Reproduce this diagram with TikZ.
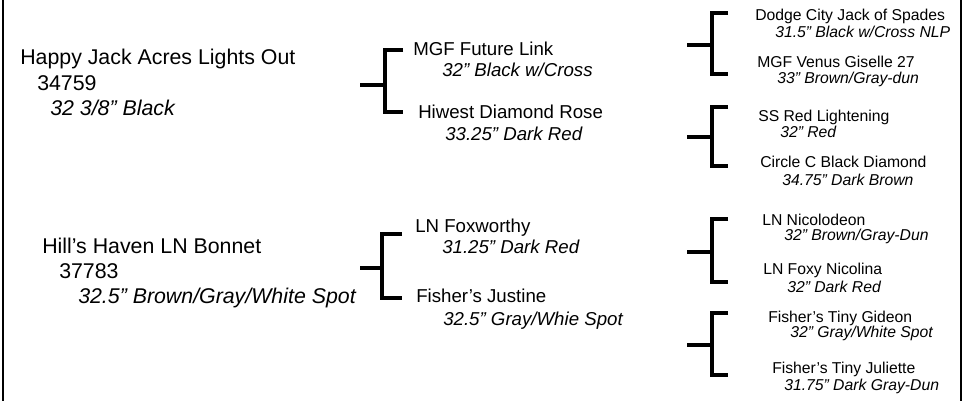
\documentclass[tikz,border=0pt]{standalone}
\usepackage{fontspec}
\setmainfont{Liberation Sans}
\usetikzlibrary{positioning}

% stub x, spine x, arm x, top y, bottom y, stub y
\newcommand{\pedbracket}[6]{%
  \draw[bracket] (#1,#6) -- (#2,#6) (#3,#4) -- (#2,#4) -- (#2,#5) -- (#3,#5);}

\begin{document}
\begin{tikzpicture}[
  x=0.75pt, y=-0.75pt,
  txt/.style={anchor=base west, inner sep=0pt},
  gen1/.style={txt, font=\fontsize{16}{19}\selectfont},
  gen2/.style={txt, font=\fontsize{14}{17}\selectfont},
  gen3/.style={txt, font=\fontsize{11.8}{14}\selectfont},
  desc/.style={execute at begin node=\itshape},
  bracket/.style={line width=3pt, line join=miter},
  frame/.style={line width=2pt},
]
\useasboundingbox (0,0) rectangle (965,401);

% frame
\draw[frame] (3,0) -- (3,401);
\draw[line width=1.2pt] (961,0) -- (961,401);

% first generation
\node[gen1] (hja) at (20,64) {Happy Jack Acres Lights Out};
\node[gen1] (hjareg) at (37,90) {34759};
\node[gen1, desc] (hjadesc) at (50,115) {32 3/8” Black};
\node[gen1] (hhb) at (42,253) {Hill’s Haven LN Bonnet};
\node[gen1] (hhbreg) at (59,278) {37783};
\node[gen1, desc] (hhbdesc) at (78,303) {32.5” Brown/Gray/White Spot};

% second generation
\node[gen2] (mgf) at (413,55) {MGF Future Link};
\node[gen2, desc] (mgfdesc) at (442,76) {32” Black w/Cross};
\node[gen2] (hdr) at (418,118) {Hiwest Diamond Rose};
\node[gen2, desc] (hdrdesc) at (445,140) {33.25” Dark Red};
\node[gen2] (lnf) at (415,232) {LN Foxworthy};
\node[gen2, desc] (lnfdesc) at (442,253) {31.25” Dark Red};
\node[gen2] (fj) at (416,302) {Fisher’s Justine};
\node[gen2, desc] (fjdesc) at (443,325) {32.5” Gray/Whie Spot};

% third generation
\node[gen3] (dcj) at (755,20) {Dodge City Jack of Spades};
\node[gen3, desc] (dcjdesc) at (775,37) {31.5” Black w/Cross NLP};
\node[gen3] (mvg) at (757,67) {MGF Venus Giselle 27};
\node[gen3, desc] (mvgdesc) at (777,83) {33” Brown/Gray-dun};
\node[gen3] (ssr) at (758,121) {SS Red Lightening};
\node[gen3, desc] (ssrdesc) at (780,137) {32” Red};
\node[gen3] (ccb) at (760,167) {Circle C Black Diamond};
\node[gen3, desc] (ccbdesc) at (782,185) {34.75” Dark Brown};
\node[gen3] (lnn) at (762,225) {LN Nicolodeon};
\node[gen3, desc] (lnndesc) at (784,240) {32” Brown/Gray-Dun};
\node[gen3] (lfn) at (763,274) {LN Foxy Nicolina};
\node[gen3, desc] (lfndesc) at (787,292) {32” Dark Red};
\node[gen3] (ftg) at (768,322) {Fisher's Tiny Gideon};
\node[gen3, desc] (ftgdesc) at (790,337) {32” Gray/White Spot};
\node[gen3] (ftj) at (772,373) {Fisher's Tiny Juliette};
\node[gen3, desc] (ftjdesc) at (784,390) {31.75” Dark Gray-Dun};

% brackets
\pedbracket{360}{385}{403}{50}{112}{85}
\pedbracket{360}{382}{402}{234}{298}{268}
\pedbracket{687}{712}{728}{13}{74}{45}
\pedbracket{687}{712}{728}{107}{166}{137}
\pedbracket{687}{712}{728}{219}{282}{252}
\pedbracket{687}{712}{728}{313}{375}{345}
\end{tikzpicture}
\end{document}
